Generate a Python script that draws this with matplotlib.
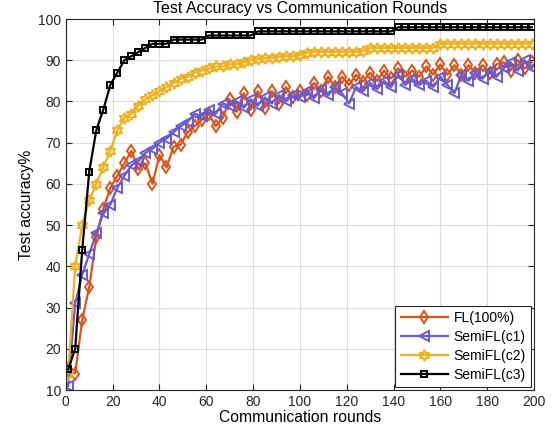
import matplotlib
matplotlib.use("Agg")
import matplotlib.pyplot as plt
import numpy as np

plt.rcParams['font.family'] = ['Liberation Sans', 'DejaVu Sans']

rounds = list(range(1, 200, 3))

fl = [15, 14, 27, 35, 47, 54, 59, 62, 65, 68, 63.5, 65, 60, 67, 64, 69, 69.5,
      72.5, 74, 75.5, 77, 74, 76, 80.5, 77.5, 82, 78, 82.5, 78.5, 82.5, 79.5,
      83.5, 81, 82.5, 81.5, 84.5, 82.5, 86, 83.5, 86, 84, 86.5, 84.8, 87, 85,
      87.5, 85.6, 88, 86, 87.5, 86, 88.5, 86.5, 89, 86.5, 88.8, 86.5, 88.8, 87,
      88.8, 87, 89, 89.5, 87.5, 90, 88, 89.5]

semi_c1 = [11, 31, 38, 43, 48, 53, 55, 59, 62, 64.5, 65.5, 67.5, 68.5, 70, 71,
           72.5, 74, 75, 77, 76.5, 78, 77, 79.5, 79, 80, 78.5, 80.5, 79, 81,
           79.5, 81.5, 80, 81.5, 81, 82.5, 80.8, 83, 81.5, 83.5, 82, 79.5, 83.5,
           82.5, 84.5, 83, 85, 83.5, 86.5, 84, 85.5, 84, 85, 83.5, 86, 84, 82,
           86.5, 85, 87, 85.5, 87.5, 86, 88, 89.5, 87.5, 90, 88]

semi_c2 = [14, 40, 50, 56, 60, 64, 68, 73, 76, 77, 79, 80.5, 81.5, 82.5, 83.5,
           84.5, 85.5, 86, 87, 87.5, 88, 88.5, 88.5, 89, 89, 89.5, 90, 90.3,
           90.5, 90.5, 90.8, 91, 91, 91.3, 91.8, 92, 92, 92, 92, 92, 92, 92,
           92.2, 93, 93, 93, 93, 93, 93, 93, 93, 93, 93, 94, 94, 94, 94, 94, 94,
           94, 94, 94, 94, 94, 94, 94, 94]

semi_c3 = [15, 20, 44, 63, 73, 78, 84, 87, 90, 91, 92, 93, 94, 94, 94, 95, 95,
           95, 95, 95, 96, 96, 96, 96, 96, 96, 96, 97, 97, 97, 97, 97, 97, 97,
           97, 97, 97, 97, 97, 97, 97, 97, 97, 97, 97, 97, 97, 98, 98, 98, 98,
           98, 98, 98, 98, 98, 98, 98, 98, 98, 98, 98, 98, 98, 98, 98, 98]

labels = ['FL(100%)', 'SemiFL(c1)', 'SemiFL(c2)', 'SemiFL(c3)']
colors = ['#D95319', '#6A5ACD', '#EDB120', '#000000']
markers = ['d', '<', (6, 1, 0), 's']
msizes = [6.5, 7, 8, 4.5]

fig = plt.figure(figsize=(5.58, 4.40), dpi=100)
ax = fig.add_axes([0.118, 0.1136, 0.839, 0.8432])

for y, lab, c, m, ms in zip([fl, semi_c1, semi_c2, semi_c3], labels, colors, markers, msizes):
    ax.plot(rounds, y, color=c, lw=1.6, marker=m, ms=ms, mfc='none',
            mec=c, mew=1.4, label=lab)

ax.set_xlim(0, 200)
ax.set_ylim(10, 100)
ax.set_xticks(np.arange(0, 201, 20))
ax.set_yticks(np.arange(10, 101, 10))
ax.grid(True, color='#dcdcdc', lw=0.8)
ax.set_axisbelow(True)
ax.tick_params(direction='in', top=True, right=True, labelsize=10,
               colors='#262626', length=4)
for s in ax.spines.values():
    s.set_color('#262626')
    s.set_linewidth(0.8)

ax.set_title('Test Accuracy vs Communication Rounds', fontsize=11.5, pad=4)
ax.set_xlabel('Communication rounds', fontsize=11.3, labelpad=1)
ax.set_ylabel('Test accuracy%', fontsize=11.3, labelpad=3)

leg = ax.legend(loc='lower right', fontsize=10, handlelength=3.4,
                fancybox=False, edgecolor='#262626', framealpha=1,
                borderaxespad=0.2, borderpad=0.4, labelspacing=0.35,
                handletextpad=0.4)
leg.get_frame().set_linewidth(0.8)

fig.savefig('out.png', dpi=100)
